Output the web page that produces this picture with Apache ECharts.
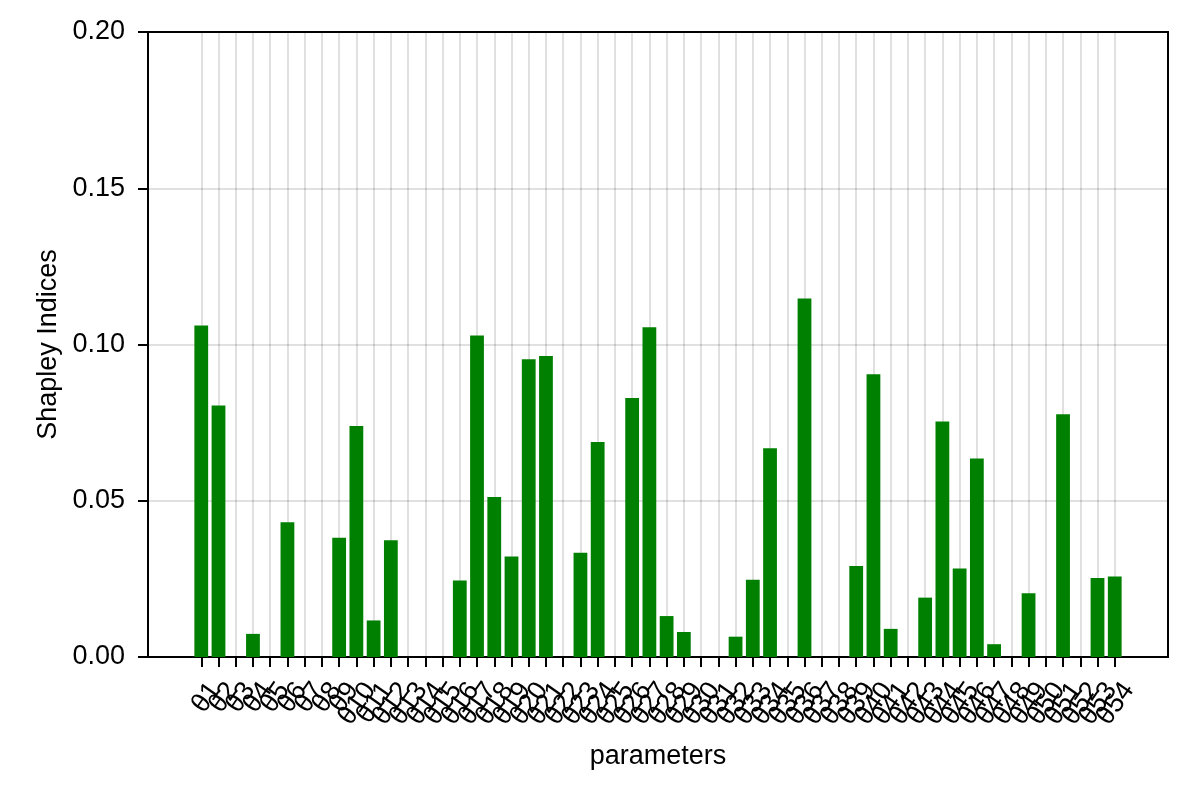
<!DOCTYPE html>
<html>
<head>
<meta charset="utf-8">
<script src="https://cdn.jsdelivr.net/npm/echarts@6/dist/echarts.min.js"></script>
<style>html,body{margin:0;padding:0;background:#fff}#c{width:1200px;height:800px}</style>
</head>
<body>
<div id="c"></div>
<script>
// parameter indices (θ1 … θ54)
const paramIndex = [];
for (let i = 1; i <= 54; i++) paramIndex.push(i);
const categories = paramIndex.map(i => 'θ' + i);
// Shapley index per parameter
const shapleyValues = [
  0.1061, 0.0805, 0, 0.0074, 0, 0.0431, 0, 0, 0.0382, 0.0739,
  0.0117, 0.0374, 0, 0, 0, 0.0245, 0.1029, 0.0512, 0.0322, 0.0953,
  0.0963, 0, 0.0334, 0.0688, 0, 0.0829, 0.1055, 0.0131, 0.0080, 0,
  0, 0.0065, 0.0247, 0.0668, 0, 0.1147, 0, 0, 0.0291, 0.0905,
  0.0090, 0, 0.0190, 0.0754, 0.0283, 0.0635, 0.0041, 0, 0.0204, 0,
  0.0777, 0, 0.0253, 0.0258
];
const yTicks = [0, 0.05, 0.10, 0.15, 0.20];
// invisible guard entries on either side so ECharts' min/max label pruning drops them, not θ1/θ54
const guardIndex = [0].concat(paramIndex, [55]);

const chart = echarts.init(document.getElementById('c'), null, {renderer: 'canvas'});
const font = "'Liberation Sans', Arial, Helvetica, sans-serif";
const gridLine = {color: 'rgba(0,0,0,0.12)', width: 2};
chart.setOption({
  animation: false,
  backgroundColor: '#fff',
  grid: {left: 148, right: 32, top: 32, bottom: 143, show: true, borderColor: '#000', borderWidth: 2, backgroundColor: 'transparent'},
  xAxis: [{
    type: 'value',
    min: -2.09, max: 57.09,
    name: 'parameters', nameLocation: 'middle', nameGap: 86,
    nameTextStyle: {color: '#000', fontSize: 27, fontFamily: font},
    axisLine: {show: true, onZero: false, lineStyle: {color: '#000', width: 2}},
    axisTick: {show: true, inside: false, length: 10, lineStyle: {color: '#000', width: 2}, customValues: guardIndex},
    axisLabel: {
      customValues: guardIndex,
      formatter: v => {
        const k = paramIndex.indexOf(v);
        return k >= 0 ? categories[k] : '{h|θ00}';
      },
      rich: {h: {color: 'rgba(0,0,0,0)', fontSize: 27, fontFamily: font}},
      rotate: 55, margin: 48, padding: [0, -24, 0, 0],
      color: '#000', fontSize: 27, fontFamily: font, hideOverlap: false
    },
    splitLine: {show: false}
  }, {
    // vertical grid lines only, one per parameter
    type: 'value', position: 'top',
    min: -2.09, max: 57.09,
    axisLine: {show: false},
    axisTick: {show: false, customValues: paramIndex},
    axisLabel: {show: false},
    splitLine: {show: true, lineStyle: gridLine}
  }],
  yAxis: {
    type: 'value', min: 0, max: 0.2, interval: 0.05,
    name: 'Shapley Indices', nameLocation: 'middle', nameGap: 72, nameRotate: 90,
    nameTextStyle: {color: '#000', fontSize: 27, fontFamily: font},
    axisLine: {show: true, onZero: false, lineStyle: {color: '#000', width: 2}},
    axisTick: {show: true, inside: false, length: 10, lineStyle: {color: '#000', width: 2}},
    axisLabel: {formatter: v => v.toFixed(2), margin: 23, color: '#000', fontSize: 27, fontFamily: font},
    splitLine: {show: true, lineStyle: gridLine}
  },
  series: [{
    type: 'bar',
    xAxisIndex: 0,
    data: paramIndex.map((p, i) => [p, shapleyValues[i]]),
    barWidth: '80%',
    itemStyle: {color: '#008000'}
  }]
});
</script>
</body>
</html>
